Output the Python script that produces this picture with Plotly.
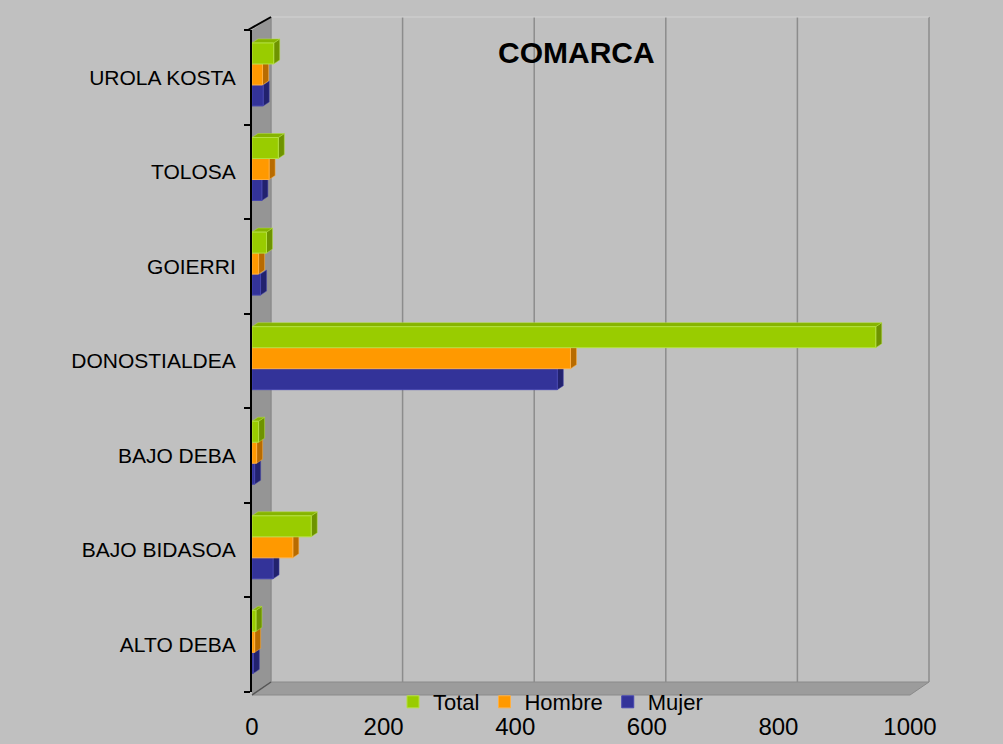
import plotly.graph_objects as go

# ---------------- data ----------------
categories = ["ALTO DEBA", "BAJO BIDASOA", "BAJO DEBA", "DONOSTIALDEA",
              "GOIERRI", "TOLOSA", "UROLA KOSTA"]
total = [6, 90, 10, 948, 22, 40, 33]
hombre = [4, 62, 7, 484, 10, 26, 16]
mujer = [2, 32, 4, 464, 13, 15, 17]
x_ticks = [0, 200, 400, 600, 800, 1000]
title_text = "COMARCA"

# ---------------- styling ----------------
W, H = 1003, 744
L, R, T, B = 252, 93, 30, 52
PW, PH = W - L - R, H - T - B
XMAX = 1000
BG = "#C0C0C0"
FONT = "Arial, Liberation Sans, sans-serif"

px_per_unit = PW / XMAX
depth_px_x, depth_px_y = 19, 13      # wall depth
bar_dx_px, bar_dy_px = 6, 4           # bar 3D depth
cat_px = PH / len(categories)
dx = bar_dx_px / px_per_unit
dy = bar_dy_px / cat_px

w = 0.222
shift = 0.03
series = [
    ("Mujer", mujer, "#333399", "#22226E", "#4646B0", -1.5 * w + shift),
    ("Hombre", hombre, "#FF9900", "#B86B00", "#FFB040", -0.5 * w + shift),
    ("Total", total, "#99CC00", "#6E9300", "#B5E040", 0.5 * w + shift),
]


def px(xp):
    return (xp - L) / PW


def py(yp):
    return (H - B - yp) / PH


fig = go.Figure()
for name, vals, col, dark, light, off in series:
    fig.add_trace(go.Bar(
        y=categories, x=vals, name=name, orientation="h",
        width=[w] * len(vals), offset=[off] * len(vals),
        marker=dict(color=col, line=dict(color=light, width=1)),
    ))

shapes = []
# side wall
x0, x1 = L, L + depth_px_x
ytop, ybot = T, H - B
shapes.append(dict(type="path", xref="paper", yref="paper", layer="below",
                   path=f"M{px(x0)},{py(ytop)} L{px(x1)},{py(ytop - depth_px_y)} "
                        f"L{px(x1)},{py(ybot - depth_px_y + 3)} L{px(x0)},{py(ybot + 3)} Z",
                   fillcolor="#959595", line=dict(width=0)))
# floor
shapes.append(dict(type="path", xref="paper", yref="paper", layer="below",
                   path=f"M{px(x0)},{py(ybot + 3)} L{px(x1)},{py(ybot - depth_px_y + 3)} "
                        f"L{px(L + PW + depth_px_x)},{py(ybot - depth_px_y + 3)} "
                        f"L{px(L + PW)},{py(ybot + 3)} Z",
                   fillcolor="#9C9C9C", line=dict(color="#8A8A8A", width=1)))
# back-wall gridlines
for t in x_ticks:
    gx = L + t * px_per_unit + depth_px_x
    shapes.append(dict(type="line", xref="paper", yref="paper", layer="below",
                       x0=px(gx), x1=px(gx), y0=py(ybot - depth_px_y + 3), y1=py(ytop - depth_px_y),
                       line=dict(color="#8C8C8C", width=1.5)))
# back wall top edge
shapes.append(dict(type="line", xref="paper", yref="paper", layer="below",
                   x0=px(x1), x1=px(L + PW + depth_px_x), y0=py(ytop - depth_px_y), y1=py(ytop - depth_px_y),
                   line=dict(color="#D2D2D2", width=1)))
# axis diagonals (top and bottom)
shapes.append(dict(type="line", xref="paper", yref="paper", layer="above",
                   x0=px(x0 - 4), y0=py(ytop), x1=px(x1), y1=py(ytop - depth_px_y),
                   line=dict(color="black", width=2)))
shapes.append(dict(type="line", xref="paper", yref="paper", layer="above",
                   x0=px(x0), y0=py(ybot + 3), x1=px(x1), y1=py(ybot - depth_px_y + 3),
                   line=dict(color="#555555", width=1.5)))

# 3D faces of bars
for name, vals, col, dark, light, off in series:
    for j, v in enumerate(vals):
        yb = j + off
        yt = yb + w
        shapes.append(dict(type="path", xref="x", yref="y", layer="below",
                           path=f"M{v},{yb} L{v},{yt} L{v + dx},{yt + dy} L{v + dx},{yb + dy} Z",
                           fillcolor=dark, line=dict(color=light, width=0.5)))
        if name == "Total":
            shapes.append(dict(type="path", xref="x", yref="y", layer="below",
                               path=f"M0,{yt} L{v},{yt} L{v + dx},{yt + dy} L{dx},{yt + dy} Z",
                               fillcolor="#86B400", line=dict(color=light, width=0.5)))

fig.update_layout(
    width=W, height=H,
    margin=dict(l=L, r=R, t=T, b=B, autoexpand=False),
    paper_bgcolor=BG, plot_bgcolor=BG,
    barmode="overlay",
    font=dict(family=FONT, color="black"),
    shapes=shapes,
    showlegend=True,
    legend=dict(orientation="h", x=px(393), xanchor="left", y=py(702), yanchor="middle",
                traceorder="reversed", bgcolor="rgba(0,0,0,0)",
                font=dict(size=22, family=FONT), itemwidth=30),
    annotations=[dict(text=f"<b>{title_text}</b>", xref="paper", yref="paper",
                      x=px(576), y=py(53), xanchor="center", yanchor="middle", showarrow=False,
                      font=dict(size=30, family=FONT, color="black"))],
    xaxis=dict(range=[0, XMAX], tickvals=x_ticks, showgrid=False, zeroline=False,
               showline=False, ticks="", tickfont=dict(size=24, family=FONT),
               ticklabelstandoff=18, fixedrange=True, automargin=False),
    yaxis=dict(type="category", categoryorder="array", categoryarray=categories,
               range=[-0.5, len(categories) - 0.5], showgrid=False, zeroline=False,
               showline=True, linecolor="black", linewidth=2,
               ticks="outside", ticklen=6, tickcolor="black", tickwidth=1.5,
               tickson="boundaries", tickfont=dict(size=21, family=FONT),
               ticklabelstandoff=10, fixedrange=True, automargin=False),
)

fig.write_html("out.html", post_script="document.body.style.margin='0';",
               config={"displayModeBar": False})
